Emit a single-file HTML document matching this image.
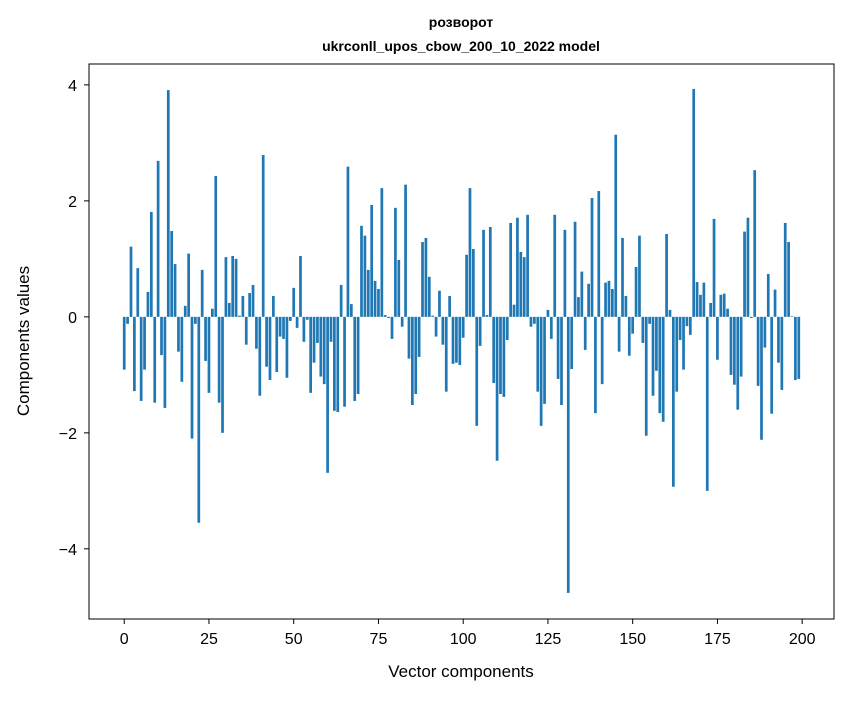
<!DOCTYPE html>
<html><head><meta charset="utf-8"><style>
html,body{margin:0;padding:0;background:#fff;}
svg text{font-family:"Liberation Sans","DejaVu Sans",sans-serif;fill:#000;}
</style></head><body>
<svg id="chart" width="847" height="696" viewBox="0 0 847 696" xmlns="http://www.w3.org/2000/svg">
<rect x="0" y="0" width="847" height="696" fill="#fff"/>
<text x="461" y="27" text-anchor="middle" font-size="14" font-weight="bold">розворот</text>
<text x="461" y="51" text-anchor="middle" font-size="14" font-weight="bold">ukrconll_upos_cbow_200_10_2022 model</text>
<g id="bars"></g>
<g id="axes"></g>
<text x="461" y="677" text-anchor="middle" font-size="17">Vector components</text>
<text x="0" y="0" transform="translate(29,341) rotate(-90)" text-anchor="middle" font-size="17">Components values</text>
</svg>
<script>
const values = [
-0.91,-0.12,1.21,-1.28,0.84,-1.45,-0.91,0.43,1.81,-1.48,
2.69,-0.66,-1.57,3.91,1.48,0.91,-0.60,-1.12,0.19,1.09,
-2.10,-0.12,-3.55,0.81,-0.76,-1.31,0.14,2.43,-1.48,-2.00,
1.03,0.24,1.05,1.00,0.02,0.36,-0.48,0.41,0.55,-0.55,
-1.36,2.79,-0.86,-1.09,0.36,-0.95,-0.34,-0.38,-1.05,-0.07,
0.50,-0.19,1.05,-0.43,-0.05,-1.31,-0.79,-0.45,-1.03,-1.16,
-2.69,-0.43,-1.62,-1.64,0.55,-1.55,2.59,0.22,-1.45,-1.33,
1.57,1.40,0.81,1.93,0.62,0.48,2.22,0.03,-0.02,-0.38,
1.88,0.98,-0.17,2.28,-0.72,-1.52,-1.33,-0.69,1.29,1.36,
0.69,0.02,-0.34,0.45,-0.48,-1.29,0.36,-0.81,-0.79,-0.83,
-0.36,1.07,2.22,1.17,-1.88,-0.50,1.50,0.03,1.55,-1.14,
-2.48,-1.33,-1.38,-0.40,1.62,0.21,1.71,1.12,1.03,1.76,
-0.17,-0.12,-1.29,-1.88,-1.50,0.12,-0.38,1.76,-1.07,-1.52,
1.50,-4.76,-0.90,1.64,0.34,0.78,-0.57,0.57,2.05,-1.66,
2.17,-1.16,0.59,0.62,0.48,3.14,-0.60,1.36,0.36,-0.67,
-0.29,0.86,1.40,-0.45,-2.05,-0.12,-1.36,-0.93,-1.66,-1.81,
1.43,0.12,-2.93,-1.29,-0.40,-0.91,-0.16,-0.31,3.93,0.60,
0.38,0.59,-3.00,0.24,1.69,-0.74,0.38,0.40,0.14,-1.00,
-1.17,-1.60,-1.03,1.47,1.71,-0.02,2.53,-1.19,-2.12,-0.53,
0.74,-1.67,0.47,-0.79,-1.26,1.62,1.29,0.01,-1.09,-1.07
];
const xTicks = [0,25,50,75,100,125,150,175,200];
const yTicks = [-4,-2,0,2,4];
const yTickLabels = ["−4","−2","0","2","4"];

const NS = "http://www.w3.org/2000/svg";
const L = 89, T = 64, W = 745, H = 555;
const xMin = -10.39, xMax = 209.39, yMin = -5.21, yMax = 4.36;
function sx(v){ return L + (v - xMin) / (xMax - xMin) * W; }
function sy(v){ return T + (yMax - v) / (yMax - yMin) * H; }

const barsG = document.getElementById('bars');
const bw = sx(0.8) - sx(0);
values.forEach(function(v, i){
  const r = document.createElementNS(NS, 'rect');
  
  
  const y0 = sy(0), y1 = sy(v);
  r.setAttribute('x', sx(i) - bw / 2);
  r.setAttribute('y', Math.min(y0, y1));
  r.setAttribute('width', bw);
  r.setAttribute('height', Math.max(Math.abs(y1 - y0), 0.3));
  r.setAttribute('fill', '#1f77b4');
  barsG.appendChild(r);
});

const axesG = document.getElementById('axes');
const frame = document.createElementNS(NS, 'rect');


frame.setAttribute('x', L); frame.setAttribute('y', T);
frame.setAttribute('width', W); frame.setAttribute('height', H);
frame.setAttribute('fill', 'none'); frame.setAttribute('stroke', '#000'); frame.setAttribute('stroke-width', '1');
axesG.appendChild(frame);

xTicks.forEach(function(t){
  const x = sx(t);
  const ln = document.createElementNS(NS, 'line');
  
  
  ln.setAttribute('x1', x); ln.setAttribute('x2', x);
  ln.setAttribute('y1', T + H); ln.setAttribute('y2', T + H + 5);
  ln.setAttribute('stroke', '#000');
  axesG.appendChild(ln);
  const tx = document.createElementNS(NS, 'text');
  
  
  tx.setAttribute('x', x); tx.setAttribute('y', T + H + 25);
  tx.setAttribute('text-anchor', 'middle'); tx.setAttribute('font-size', '16');
  tx.textContent = String(t);
  axesG.appendChild(tx);
});

yTicks.forEach(function(t, k){
  const y = sy(t);
  const ln = document.createElementNS(NS, 'line');
  
  
  ln.setAttribute('x1', L - 5); ln.setAttribute('x2', L);
  ln.setAttribute('y1', y); ln.setAttribute('y2', y);
  ln.setAttribute('stroke', '#000');
  axesG.appendChild(ln);
  const tx = document.createElementNS(NS, 'text');
  
  
  tx.setAttribute('x', L - 12); tx.setAttribute('y', y + 6);
  tx.setAttribute('text-anchor', 'end'); tx.setAttribute('font-size', '16');
  tx.textContent = yTickLabels[k];
  axesG.appendChild(tx);
});
</script>
</body></html>
